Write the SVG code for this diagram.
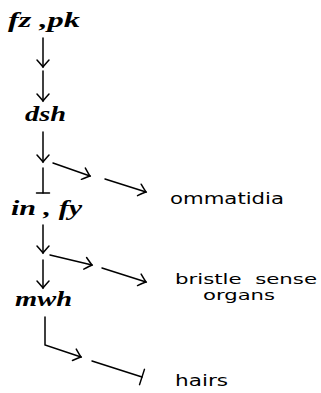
<svg xmlns="http://www.w3.org/2000/svg" width="321" height="393" viewBox="0 0 321 393">
<style>
.gene{font-family:"Liberation Serif",serif;font-style:italic;font-weight:bold;font-size:20px;fill:#000}
.lbl{font-family:"DejaVu Sans",sans-serif;font-size:16.5px;fill:#000}
.lbl2{font-family:"DejaVu Sans",sans-serif;font-size:14.5px;fill:#000}
.c{fill:none;stroke:#000;stroke-width:1.5;stroke-linecap:round}
</style>
<defs>
<marker id="arr" markerUnits="userSpaceOnUse" markerWidth="20" markerHeight="20" refX="0" refY="0" viewBox="-10 -10 20 20" orient="auto" overflow="visible">
<path d="M-7,-6 Q-2,-1.5 0,0 Q-2,1.5 -7,6" fill="none" stroke="#000" stroke-width="1.5" stroke-linecap="round"/>
</marker>
<marker id="bar" markerUnits="userSpaceOnUse" markerWidth="20" markerHeight="20" refX="0" refY="0" viewBox="-10 -10 20 20" orient="auto" overflow="visible">
<path d="M0,-6.5 L0,6.5" fill="none" stroke="#000" stroke-width="1.5" stroke-linecap="round"/>
</marker>
<marker id="bar2" markerUnits="userSpaceOnUse" markerWidth="20" markerHeight="20" refX="0" refY="0" viewBox="-10 -10 20 20" orient="auto" overflow="visible">
<path d="M0,-8 L0,8" fill="none" stroke="#000" stroke-width="1.5" stroke-linecap="round"/>
</marker>
</defs>
<g id="node-fzpk"><text class="gene" x="8" y="27" textLength="72" lengthAdjust="spacingAndGlyphs">fz ,pk</text></g>
<g id="node-dsh"><text class="gene" x="25" y="121" textLength="41" lengthAdjust="spacingAndGlyphs">dsh</text></g>
<g id="node-infy"><text class="gene" x="11" y="215" textLength="71" lengthAdjust="spacingAndGlyphs">in , fy</text></g>
<g id="node-mwh"><text class="gene" x="15" y="306" textLength="57" lengthAdjust="spacingAndGlyphs">mwh</text></g>
<g id="node-ommatidia"><text class="lbl" x="170" y="204" textLength="114" lengthAdjust="spacingAndGlyphs">ommatidia</text></g>
<g id="node-bristle"><text class="lbl2" x="175" y="284" textLength="142" lengthAdjust="spacingAndGlyphs" xml:space="preserve">bristle  sense</text><text class="lbl2" x="203" y="300" textLength="72" lengthAdjust="spacingAndGlyphs">organs</text></g>
<g id="node-hairs"><text class="lbl" x="175" y="386" textLength="53" lengthAdjust="spacingAndGlyphs">hairs</text></g>
<g id="connectors">
<line class="c" x1="43" y1="38" x2="43" y2="67" marker-end="url(#arr)"/>
<line class="c" x1="43" y1="71" x2="43" y2="101" marker-end="url(#arr)"/>
<line class="c" x1="43" y1="132" x2="43" y2="162" marker-end="url(#arr)"/>
<line class="c" x1="43" y1="168" x2="43" y2="193" marker-end="url(#bar)"/>
<line class="c" x1="43" y1="225" x2="43" y2="253" marker-end="url(#arr)"/>
<line class="c" x1="43" y1="260" x2="43" y2="288" marker-end="url(#arr)"/>
<line class="c" x1="53" y1="163" x2="90" y2="176" marker-end="url(#arr)"/>
<line class="c" x1="105" y1="179" x2="146" y2="192" marker-end="url(#arr)"/>
<line class="c" x1="50" y1="255" x2="92" y2="265" marker-end="url(#arr)"/>
<line class="c" x1="102" y1="268" x2="146" y2="282" marker-end="url(#arr)"/>
<polyline class="c" points="45,317 45,345 81,357" marker-end="url(#arr)"/>
<line class="c" x1="92" y1="361" x2="142" y2="377" marker-end="url(#bar2)"/>
</g>
</svg>
